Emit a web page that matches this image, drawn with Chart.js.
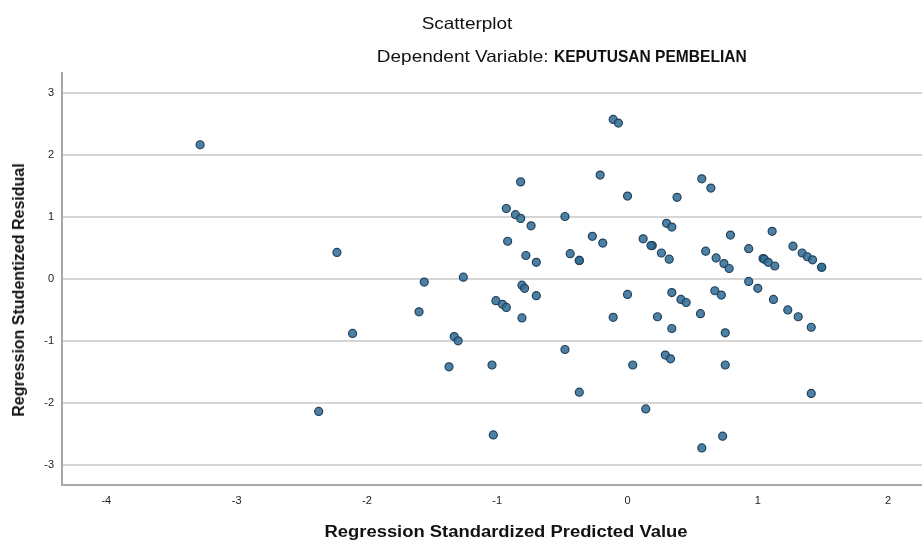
<!DOCTYPE html>
<html>
<head>
<meta charset="utf-8">
<script src="https://cdn.jsdelivr.net/npm/chart.js@4.4.1/dist/chart.umd.min.js"></script>
<style>
  html, body { margin: 0; padding: 0; background: #fff; }
  #wrap { position: relative; width: 922px; height: 541px; overflow: hidden; }
  .ttl {
    position: absolute;
    font-family: 'Liberation Sans', Arial, sans-serif;
    color: #111;
    white-space: nowrap;
    line-height: 1;
  }
  .narrow {
    display: inline-block;
    font-weight: bold;
    transform: scaleX(0.82);
    transform-origin: left center;
    margin-right: -38px;
  }
</style>
</head>
<body>
<div id="wrap">
  <canvas id="chart" width="922" height="541"></canvas>
  <div class="ttl" style="left:467px; top:23px; font-size:16.5px; transform:translate(-50%,-50%) scaleX(1.15);">Scatterplot</div>
  <div class="ttl" style="left:561px; top:56px; font-size:16.5px; transform:translate(-50%,-50%) scaleX(1.15);">Dependent Variable: <span class="narrow">KEPUTUSAN PEMBELIAN</span></div>
  <div class="ttl" style="left:506px; top:532px; font-size:16px; font-weight:bold; transform:translate(-50%,-50%) scaleX(1.15);">Regression Standardized Predicted Value</div>
  <div class="ttl" style="left:19px; top:290px; font-size:16px; font-weight:bold; transform:translate(-50%,-50%) rotate(-90deg);">Regression Studentized Residual</div>
</div>
<script>
// tick labels
const xTicks = [-4, -3, -2, -1, 0, 1, 2];
const yTicks = [-3, -2, -1, 0, 1, 2, 3];

// Regression Standardized Predicted Value
const predicted = [
  -3.28, -2.23, -2.11, -2.37, -1.60, -1.56, -1.26, -1.33, -1.30, -1.37,
  -0.11, -0.07, -0.21, -0.82, 0.57, 0.64, 0.00, 0.38, -0.93, -0.86,
  -0.82, -0.74, -0.48, 0.30, 0.34, -0.92, -0.78, -0.70, -0.44, -0.37,
  -0.37, -0.27, -0.19, 0.12, 0.19, 0.18, 0.26, 0.32, 0.60, 0.68,
  0.74, 0.78, 0.79, 0.93, 1.11, 1.04, 1.05, 1.08, 1.13, 1.27,
  1.34, 1.38, 1.42, 1.49, 1.49, -0.81, -0.79, -1.01, -0.96, -0.93,
  -0.70, -0.81, 0.00, -0.11, 0.34, 0.41, 0.45, 0.23, 0.34, 0.56,
  0.67, 0.72, 0.93, 1.00, 1.12, 1.23, 1.31, 1.41, 0.75, -0.48,
  -1.04, 0.04, 0.29, 0.33, 0.75, -0.37, 1.41, 0.14, -1.03, 0.57,
  0.73
];

// Regression Studentized Residual
const residual = [
  2.17, 0.43, -0.88, -2.14, -0.53, -0.05, 0.03, -0.93, -1.00, -1.42,
  2.58, 2.52, 1.68, 1.57, 1.62, 1.47, 1.34, 1.32, 1.14, 1.04,
  0.98, 0.86, 1.01, 0.90, 0.84, 0.61, 0.38, 0.27, 0.41, 0.30,
  0.30, 0.69, 0.58, 0.65, 0.54, 0.54, 0.42, 0.32, 0.45, 0.34,
  0.25, 0.17, 0.71, 0.49, 0.77, 0.33, 0.32, 0.27, 0.21, 0.53,
  0.42, 0.36, 0.31, 0.19, 0.19, -0.10, -0.15, -0.35, -0.41, -0.46,
  -0.27, -0.63, -0.25, -0.62, -0.22, -0.33, -0.38, -0.61, -0.80, -0.56,
  -0.19, -0.26, -0.04, -0.15, -0.33, -0.50, -0.61, -0.78, -0.87, -1.14,
  -1.39, -1.39, -1.23, -1.29, -1.39, -1.83, -1.85, -2.10, -2.52, -2.73,
  -2.54
];

const points = predicted.map((x, i) => ({ x: x, y: residual[i] }));

const fontFamily = "'Liberation Sans', Arial, sans-serif";

new Chart(document.getElementById('chart'), {
  type: 'scatter',
  data: {
    datasets: [{
      data: points,
      pointRadius: 4,
      pointHoverRadius: 4,
      pointBorderWidth: 1.2,
      pointBackgroundColor: 'rgba(52, 110, 150, 0.88)',
      pointBorderColor: '#22425e'
    }]
  },
  options: {
    responsive: false,
    animation: false,
    devicePixelRatio: 1,
    layout: { autoPadding: false, padding: { top: 73, right: 0, left: 0, bottom: 0 } },
    plugins: {
      legend: { display: false },
      tooltip: { enabled: false }
    },
    scales: {
      x: {
        type: 'linear',
        min: -4.34,
        max: 2.26,
        afterBuildTicks: s => { s.ticks = xTicks.map(v => ({ value: v })); },
        afterFit: s => { s.height = 56; },
        grid: { display: false, drawTicks: false },
        border: { display: true, color: '#a8a8a8', width: 2 },
        ticks: { padding: 9, color: '#222', font: { family: fontFamily, size: 11 } }
      },
      y: {
        min: -3.33,
        max: 3.33,
        afterBuildTicks: s => { s.ticks = yTicks.map(v => ({ value: v })); },
        afterFit: s => { s.width = 62; },
        grid: { color: '#d6d6d6', lineWidth: 2, drawTicks: false },
        border: { display: true, color: '#a8a8a8', width: 2 },
        ticks: { padding: 8, color: '#222', font: { family: fontFamily, size: 11 } }
      }
    }
  }
});
</script>
</body>
</html>
